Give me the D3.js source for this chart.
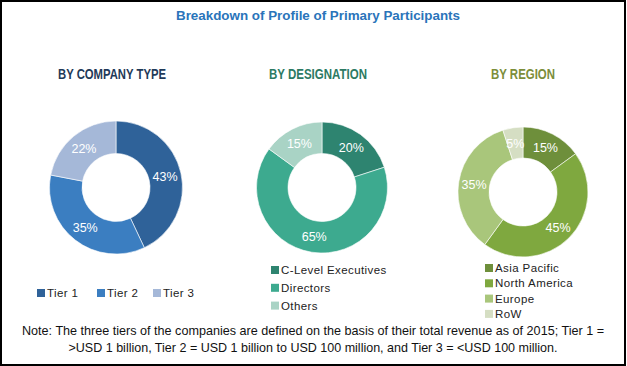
<!DOCTYPE html>
<html>
<head>
<meta charset="utf-8">
<script src="https://cdn.jsdelivr.net/npm/d3@7"></script>
<style>
  body { margin: 0; background: #fff; }
  text { font-family: "Liberation Sans", Arial, sans-serif; }
</style>
</head>
<body>
<svg id="chart" width="627" height="366"></svg>
<script>
// --- donnees ---
const companyLabels = ["Tier 1", "Tier 2", "Tier 3"];
const companyValues = [43, 35, 22];
const designationLabels = ["C-Level Executives", "Directors", "Others"];
const designationValues = [20, 65, 15];
const regionLabels = ["Asia Pacific", "North America", "Europe", "RoW"];
const regionValues = [15, 45, 35, 5];
const noteLines = [
  "Note: The three tiers of the companies are defined on the basis of their total revenue as of 2015; Tier 1 =",
  ">USD 1 billion, Tier 2 = USD 1 billion to USD 100 million, and Tier 3 = <USD 100 million."
];

const svg = d3.select("#chart");

// cadre noir
svg.append("rect")
  .attr("x", 1).attr("y", 1).attr("width", 624).attr("height", 364)
  .attr("fill", "#fff").attr("stroke", "#000").attr("stroke-width", 2);

svg.append("text")
  .attr("x", 318).attr("y", 20)
  .attr("text-anchor", "middle")
  .attr("font-size", 12.5).attr("font-weight", "bold")
  .attr("fill", "#2a74ba")
  .attr("textLength", 284).attr("lengthAdjust", "spacingAndGlyphs")
  .text("Breakdown of Profile of Primary Participants");

// un donut par panneau
const panels = [
  { title: "BY COMPANY TYPE", titleColor: "#1f3a59", tx: 112, tw: 108, cx: 116, cy: 187.5, r: 66.5,
    labels: companyLabels, values: companyValues,
    colors: ["#2f6299", "#3b7ec1", "#a5b8d8"], legend: "row", lx: 37, ly: 293, gaps: [0, 60, 116] },
  { title: "BY DESIGNATION", titleColor: "#2c7a63", tx: 318, tw: 98, cx: 322, cy: 187.5, r: 65.5,
    labels: designationLabels, values: designationValues,
    colors: ["#2e8470", "#3daa8f", "#a9d3c5"], legend: "col", lx: 271, ly: 270, step: 17.8 },
  { title: "BY REGION", titleColor: "#7c8e3a", tx: 523, tw: 64, cx: 523, cy: 192, r: 65,
    labels: regionLabels, values: regionValues,
    colors: ["#6e8f3b", "#7fa83f", "#a9c67b", "#d5dec3"], legend: "col", lx: 485, ly: 268, step: 15.3 }
];

const innerR = 34;
const pie = d3.pie().sort(null).value(d => d);

panels.forEach(function (p) {
  const g = svg.append("g");

  g.append("text")
    .attr("x", p.tx).attr("y", 79)
    .attr("text-anchor", "middle")
    .attr("font-size", 14).attr("font-weight", "bold")
    .attr("fill", p.titleColor)
    .attr("textLength", p.tw).attr("lengthAdjust", "spacingAndGlyphs")
    .text(p.title);

  const arc = d3.arc().innerRadius(innerR).outerRadius(p.r);
  const color = d3.scaleOrdinal().domain(p.labels).range(p.colors);
  const arcs = pie(p.values);

  const donut = g.append("g").attr("transform", `translate(${p.cx},${p.cy})`);
  donut.selectAll("path")
    .data(arcs)
    .join("path")
      .attr("d", arc)
      .attr("fill", (d, i) => color(p.labels[i]))
      .attr("stroke", "#fff").attr("stroke-width", 0.6);

  donut.selectAll("text")
    .data(arcs)
    .join("text")
      .attr("transform", d => `translate(${arc.centroid(d)})`)
      .attr("text-anchor", "middle")
      .attr("dy", "0.36em")
      .attr("font-size", 12.5)
      .attr("fill", "#fff")
      .text(d => d.data + "%");

  const leg = g.append("g");
  p.labels.forEach(function (lab, i) {
    const x = p.legend === "row" ? p.lx + p.gaps[i] : p.lx;
    const y = p.legend === "row" ? p.ly : p.ly + i * p.step;
    leg.append("rect")
      .attr("x", x).attr("y", y - 4).attr("width", 8).attr("height", 8)
      .attr("fill", color(lab));
    leg.append("text")
      .attr("x", x + 10).attr("y", y)
      .attr("dy", "0.36em")
      .attr("font-size", 11.5)
      .attr("letter-spacing", 0.4)
      .attr("fill", "#222")
      .text(lab);
  });
});

// note
const noteWidths = [582, 489];
svg.selectAll("text.note")
  .data(noteLines)
  .join("text")
    .attr("class", "note")
    .attr("x", 313)
    .attr("y", (d, i) => 335 + i * 17)
    .attr("text-anchor", "middle")
    .attr("font-size", 13)
    .attr("fill", "#111")
    .attr("textLength", (d, i) => noteWidths[i])
    .attr("lengthAdjust", "spacingAndGlyphs")
    .text(d => d);
</script>
</body>
</html>
